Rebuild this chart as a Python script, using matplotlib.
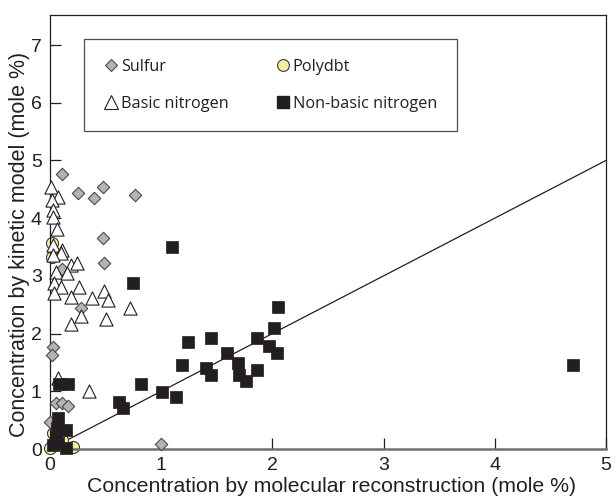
import numpy as np
import matplotlib.pyplot as plt
from matplotlib.lines import Line2D

# mole % : molecular reconstruction (x) vs kinetic model (y)
sulfur_x = [0.11, 0.25, 0.40, 0.48, 0.76, 0.48, 0.49, 0.11, 0.28,
            0.03, 0.02, 0.05, 0.11, 0.16, 0.00, 1.00]
sulfur_y = [4.77, 4.44, 4.35, 4.54, 4.40, 3.66, 3.23, 3.12, 2.44,
            1.77, 1.63, 0.80, 0.80, 0.75, 0.47, 0.08]

polydbt_x = [0.02, 0.02, 0.03, 0.11, 0.21, 0.00]
polydbt_y = [3.57, 3.33, 0.28, 0.16, 0.04, 0.02]

basic_x = [0.01, 0.07, 0.02, 0.03, 0.03, 0.06, 0.03, 0.11, 0.10, 0.19,
           0.24, 0.05, 0.15, 0.04, 0.10, 0.26, 0.04, 0.19, 0.38, 0.49,
           0.52, 0.72, 0.28, 0.50, 0.19, 0.07, 0.35, 0.03]
basic_y = [4.54, 4.37, 4.31, 4.14, 4.02, 3.81, 3.54, 3.45, 3.40, 3.19,
           3.23, 3.07, 3.05, 2.88, 2.81, 2.81, 2.70, 2.64, 2.62, 2.73,
           2.58, 2.44, 2.30, 2.25, 2.17, 1.23, 1.00, 3.36]

nonbasic_x = [1.10, 0.75, 2.05, 2.01, 1.24, 1.45, 1.86, 1.59, 1.97, 2.04,
              1.19, 1.69, 1.40, 1.86, 1.45, 1.70, 1.76, 0.82, 1.01, 1.13,
              0.62, 0.66, 0.08, 0.16, 0.07, 0.06, 0.14, 0.05, 0.03, 0.14,
              0.07, 4.70]
nonbasic_y = [3.50, 2.88, 2.46, 2.10, 1.86, 1.93, 1.93, 1.66, 1.79, 1.66,
              1.46, 1.49, 1.40, 1.37, 1.28, 1.28, 1.18, 1.13, 0.99, 0.90,
              0.81, 0.71, 1.13, 1.13, 0.54, 0.37, 0.33, 0.21, 0.07, 0.02,
              0.10, 1.46]

parity = [0, 5]

plt.rcParams['font.family'] = ['Liberation Sans', 'DejaVu Sans']

fig = plt.figure(figsize=(6.15, 4.96), dpi=100)
ax = fig.add_axes([50 / 615, 47 / 496, 556 / 615, 434 / 496])

ax.plot(parity, parity, color='#231f20', lw=0.9, zorder=1)

ax.scatter(polydbt_x, polydbt_y, s=75, marker='o', facecolor='#f4efa0',
           edgecolor='#3a3a3a', linewidth=0.8, clip_on=False, zorder=2)
ax.scatter(sulfur_x, sulfur_y, s=40, marker='D', facecolor='#b3b3b3',
           edgecolor='#4a4a4a', linewidth=0.8, clip_on=False, zorder=3)
ax.scatter(basic_x, basic_y, s=90, marker='^', facecolor='white',
           edgecolor='#231f20', linewidth=0.8, clip_on=False, zorder=4)
ax.scatter(nonbasic_x, nonbasic_y, s=82, marker='s', facecolor='#231f20',
           edgecolor='#231f20', linewidth=0.5, clip_on=False, zorder=5)

ax.set_xlim(0, 5)
ax.set_ylim(0, 7.52)
ax.set_xticks(range(6))
ax.set_yticks(range(8))
ax.tick_params(direction='in', length=8, width=0.9, labelsize=14,
               colors='#231f20', pad=6)
ax.spines['bottom'].set_color('#707070')
ax.spines['bottom'].set_linewidth(1.8)
for side in ['left', 'top', 'right']:
    ax.spines[side].set_linewidth(0.9)
    ax.spines[side].set_color('#231f20')

ax.set_xlabel('Concentration by molecular reconstruction (mole %)',
              fontsize=15.3, color='#231f20')
ax.xaxis.set_label_coords(0.507, -0.064)
ax.set_ylabel('Concentration by kinetic model (mole %)', fontsize=15.5,
              color='#231f20')
ax.yaxis.set_label_coords(-0.036, 0.472)

# legend: row 1 Sulfur / Polydbt, row 2 Basic / Non-basic nitrogen
handles = [
    Line2D([], [], ls='none', marker='D', ms=6.2, mfc='#b3b3b3', mec='#4a4a4a', mew=0.8),
    Line2D([], [], ls='none', marker='^', ms=9.5, mfc='white', mec='#231f20', mew=0.8),
    Line2D([], [], ls='none', marker='o', ms=8.5, mfc='#f4efa0', mec='#3a3a3a', mew=0.8),
    Line2D([], [], ls='none', marker='s', ms=8.5, mfc='#231f20', mec='#231f20'),
]
labels = ['Sulfur', 'Basic nitrogen', 'Polydbt', 'Non-basic nitrogen']
leg = ax.legend(handles, labels, ncol=2, loc='upper left',
                bbox_to_anchor=(0.0612, 0.9447),
                frameon=True, fancybox=False, edgecolor='#231f20',
                handlelength=0.86, handletextpad=0.2, borderpad=1.2,
                labelspacing=1.3, columnspacing=2.9, borderaxespad=0,
                prop={'family': 'Open Sans', 'size': 11.7})
leg.get_frame().set_linewidth(0.9)
for t in leg.get_texts():
    t.set_color('#231f20')

fig.savefig('out.png', dpi=100)
